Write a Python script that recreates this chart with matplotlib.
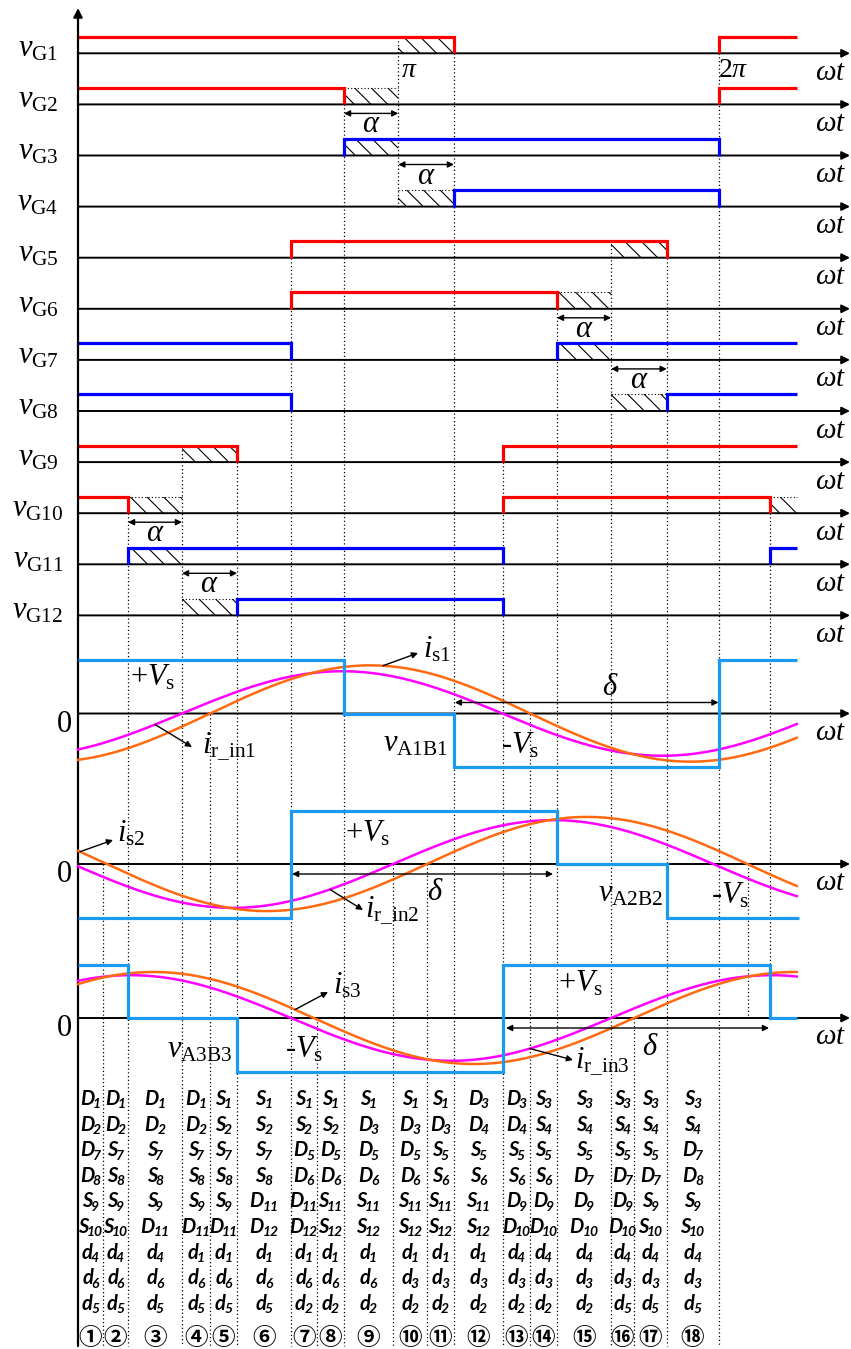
import numpy as np
import matplotlib
matplotlib.use("Agg")
import matplotlib.pyplot as plt
from matplotlib.patches import Rectangle

plt.rcParams["font.family"] = ["Liberation Serif", "DejaVu Serif"]
plt.rcParams["mathtext.fontset"] = "custom"
plt.rcParams["mathtext.rm"] = "Liberation Serif"
plt.rcParams["mathtext.it"] = "Liberation Serif:italic"
plt.rcParams["mathtext.bf"] = "Liberation Serif:bold"
plt.rcParams["hatch.linewidth"] = 0.8

# ---------------- gate signals (electrical angle in degrees) ----------------
gate_names = ["G1", "G2", "G3", "G4", "G5", "G6",
              "G7", "G8", "G9", "G10", "G11", "G12"]
gate_colors = ["#FF0000", "#FF0000", "#0000FF", "#0000FF",
               "#FF0000", "#FF0000", "#0000FF", "#0000FF",
               "#FF0000", "#FF0000", "#0000FF", "#0000FF"]
gate_start = [1, 1, 0, 0, 0, 0, 1, 1, 1, 1, 0, 0]
gate_edges = [[211.3, 360], [149.5, 360], [149.5, 360], [211.3, 360],
              [119.5, 330.9], [119.5, 269.2], [119.5, 269.2], [119.5, 330.9],
              [89.4, 238.9], [28.1, 238.9, 388.9], [28.1, 238.9, 388.9],
              [89.4, 238.9]]
gate_deadtime = [[(180, 211.3)], [(149.5, 180)], [(149.5, 180)], [(180, 211.3)],
                 [(299.6, 330.9)], [(269.2, 299.6)], [(269.2, 299.6)],
                 [(299.6, 330.9)], [(58.45, 89.4)],
                 [(28.1, 58.45), (388.9, 404)], [(28.1, 58.45)], [(58.45, 89.4)]]
# (row below which the arrow sits, start, end)
alpha_marks = [(1, 149.5, 180), (2, 180, 211.3), (5, 269.2, 299.6),
               (6, 299.6, 330.9), (9, 28.1, 58.45), (10, 58.45, 89.4)]
trace_end = 404.0

# ---------------- bridge voltages (units of Vs) and currents ----------------
bridge_names = ["A1B1", "A2B2", "A3B3"]
bridge_edges = [[0, 149.5, 211.3, 360, 404],
                [0, 119.5, 269.2, 330.9, 405],
                [0, 28.1, 89.4, 238.9, 388.9, 404]]
bridge_levels = [[1, 0, -1, 1],
                 [-1, 1, 0, -1],
                 [1, 0, -1, 1, 0]]
is_peak = [0.90, 0.88, 0.86]
is_zero_up = [74.2, 196.2, 312.5]
ir_peak = [0.79, 0.82, 0.80]
ir_zero_up = [58.45, 177.0, 299.6]
delta_spans = [(211.8, 360.0), (120.3, 267.0), (240.6, 388.4)]
is_arrow_at = [171.4, 1.1, 122.0]
ir_arrow_at = [43.3, 141.6, 254.0]

# ---------------- conduction table ----------------
interval_edges = [0, 14.05, 28.1, 58.45, 74.2, 89.4, 119.5, 134.3, 149.5, 177.0,
                  196.2, 211.3, 238.9, 254.0, 269.2, 299.6, 312.5, 330.9, 360]
conducting = [
    "D1 D2 D7 D8 S9 S10 d4 d6 d5",
    "D1 D2 S7 S8 S9 S10 d4 d6 d5",
    "D1 D2 S7 S8 S9 D11 d4 d6 d5",
    "D1 D2 S7 S8 S9 D11 d1 d6 d5",
    "S1 S2 S7 S8 S9 D11 d1 d6 d5",
    "S1 S2 S7 S8 D11 D12 d1 d6 d5",
    "S1 S2 D5 D6 D11 D12 d1 d6 d2",
    "S1 S2 D5 D6 S11 S12 d1 d6 d2",
    "S1 D3 D5 D6 S11 S12 d1 d6 d2",
    "S1 D3 D5 D6 S11 S12 d1 d3 d2",
    "S1 D3 S5 S6 S11 S12 d1 d3 d2",
    "D3 D4 S5 S6 S11 S12 d1 d3 d2",
    "D3 D4 S5 S6 D9 D10 d4 d3 d2",
    "S3 S4 S5 S6 D9 D10 d4 d3 d2",
    "S3 S4 S5 D7 D9 D10 d4 d3 d2",
    "S3 S4 S5 D7 D9 D10 d4 d3 d5",
    "S3 S4 S5 D7 S9 S10 d4 d3 d5",
    "S3 S4 D7 D8 S9 S10 d4 d3 d5",
]
interval_tags = ["①", "②", "③", "④", "⑤", "⑥", "⑦", "⑧", "⑨",
                 "⑩", "⑪", "⑫", "⑬", "⑭", "⑮", "⑯", "⑰", "⑱"]

# ---------------- layout (figure pixels) ----------------
W, H = 851, 1349
X0 = 78.0                 # pixel of the 0 rad axis
PPD = 640.5 / 360.0       # pixels per degree


def xd(px):
    return (px - X0) / PPD


ROW = [53.3 + 51.1 * i for i in range(12)]
GH = 16.6
ZERO = [713.5, 864.0, 1018.0]
VS = 53.5
BOTTOM = 1346.0
X_END = xd(850)

C_BRIDGE = "#1A9BF0"
C_IS = "#FF6A10"
C_IR = "#FF00FF"

fig = plt.figure(figsize=(W / 100, H / 100), dpi=100)
ax = fig.add_axes([0, 0, 1, 1])
ax.set_xlim(xd(0), xd(W))
ax.set_ylim(H, 0)
ax.axis("off")

dot = (0, (1, 2))

# vertical guide lines: (angle, top, bottom)
guides = [
    (14.05, ZERO[1], BOTTOM), (28.1, ROW[9], BOTTOM),
    (58.45, ROW[8] - GH, BOTTOM), (74.2, ZERO[0], BOTTOM),
    (89.4, ROW[8], BOTTOM), (119.5, ROW[4], BOTTOM),
    (134.3, ZERO[2], BOTTOM), (149.5, ROW[1], BOTTOM),
    (177.0, ZERO[1], BOTTOM), (180.0, ROW[0] - GH, ROW[3]),
    (196.2, ZERO[1], BOTTOM), (211.3, ROW[0], BOTTOM),
    (238.9, ROW[8], BOTTOM), (254.0, ZERO[0], BOTTOM),
    (269.2, ROW[5], BOTTOM), (299.6, ROW[4] - GH, BOTTOM),
    (312.5, ZERO[2], BOTTOM), (330.9, ROW[4], BOTTOM),
    (360.0, ROW[0], BOTTOM), (376.6, ZERO[1], ZERO[2]),
    (388.9, ROW[9], ZERO[2]),
]
for ang, y0, y1 in guides:
    ax.plot([ang, ang], [y0, y1], color="black", lw=0.9, ls=dot, zorder=1)

# vertical axis
ax.annotate("", xy=(0, 8), xytext=(0, BOTTOM),
            arrowprops=dict(arrowstyle="-|>", mutation_scale=13, lw=1.6,
                            color="black", shrinkA=0, shrinkB=0), zorder=5)


def h_axis(y):
    ax.annotate("", xy=(X_END, y), xytext=(0, y),
                arrowprops=dict(arrowstyle="-|>", mutation_scale=12, lw=1.4,
                                color="black", shrinkA=0, shrinkB=0), zorder=3)
    ax.text(xd(846), y + 26.5, r"$\omega t$", fontsize=21, ha="right",
            va="baseline")


def state_at(start, edges, x):
    s = start
    for e in edges:
        if x >= e:
            s = 1 - s
    return s


# gate rows
for i, name in enumerate(gate_names):
    y = ROW[i]
    h_axis(y)
    ax.text(xd(38), y + 3.5, r"$v_{\mathrm{%s}}$" % name, fontsize=22,
            ha="center", va="baseline")
    bounds = [0.0] + gate_edges[i] + [trace_end]
    s = gate_start[i]
    for a, b in zip(bounds[:-1], bounds[1:]):
        if s == 1:
            xs, ys = [], []
            if a > 0:
                xs.append(a)
                ys.append(y)
            xs += [a, b]
            ys += [y - GH, y - GH]
            if b < trace_end:
                xs.append(b)
                ys.append(y)
            ax.plot(xs, ys, color=gate_colors[i], lw=2.3, zorder=4,
                    solid_joinstyle="miter", solid_capstyle="butt")
        s = 1 - s
    for a, b in gate_deadtime[i]:
        ax.add_patch(Rectangle((a, y - GH), b - a, GH, hatch="\\\\",
                               fill=False, lw=0, edgecolor="black", zorder=2))
        if state_at(gate_start[i], gate_edges[i], 0.5 * (a + b)) == 0:
            ax.plot([a, b], [y - GH, y - GH], color="black", lw=0.8,
                    ls=dot, zorder=2)

for r, a, b in alpha_marks:
    ya = ROW[r] + 9
    ax.annotate("", xy=(b, ya), xytext=(a, ya),
                arrowprops=dict(arrowstyle="<|-|>", mutation_scale=9, lw=1.0,
                                color="black", shrinkA=0, shrinkB=0), zorder=5)
    ax.text(0.5 * (a + b), ya + 19, r"$\alpha$", fontsize=22, ha="center",
            va="baseline")

ax.text(xd(401), 77, r"$\pi$", fontsize=20, ha="left", va="baseline")
ax.text(xd(718), 77, r"$\mathit{2}\pi$", fontsize=20, ha="left",
        va="baseline")

# bridge voltage / current panels
theta = np.linspace(0, trace_end, 900)
for k in range(3):
    z = ZERO[k]
    h_axis(z)
    ax.text(xd(64.5), z + 18, "0", fontsize=22, ha="center", va="baseline")
    lv = np.array(bridge_levels[k], dtype=float)
    ax.stairs(z - lv * VS, bridge_edges[k], baseline=None, color=C_BRIDGE,
              lw=2.3, zorder=6)
    i_s = z - is_peak[k] * VS * np.sin(np.radians(theta - is_zero_up[k]))
    i_r = z - ir_peak[k] * VS * np.sin(np.radians(theta - ir_zero_up[k]))
    ax.plot(theta, i_r, color=C_IR, lw=1.8, zorder=5)
    ax.plot(theta, i_s, color=C_IS, lw=1.8, zorder=5)
    a, b = delta_spans[k]
    yd = z - 11 if k == 0 else z + 10
    ax.annotate("", xy=(b, yd), xytext=(a, yd),
                arrowprops=dict(arrowstyle="<|-|>", mutation_scale=9, lw=1.0,
                                color="black", shrinkA=0, shrinkB=0), zorder=7)

# current label arrows, tails on the curves
is_label_px = [(418, 653), (113, 840), (328, 992)]
ir_label_px = [(192, 747), (363, 910), (573, 1060)]
for k in range(3):
    z = ZERO[k]
    ta = is_arrow_at[k]
    ty = z - is_peak[k] * VS * np.sin(np.radians(ta - is_zero_up[k]))
    hx, hy = is_label_px[k]
    ax.annotate("", xy=(xd(hx), hy), xytext=(ta, ty),
                arrowprops=dict(arrowstyle="-|>", mutation_scale=9, lw=1.0,
                                color="black", shrinkA=0, shrinkB=0), zorder=7)
    ta = ir_arrow_at[k]
    ty = z - ir_peak[k] * VS * np.sin(np.radians(ta - ir_zero_up[k]))
    hx, hy = ir_label_px[k]
    ax.annotate("", xy=(xd(hx), hy), xytext=(ta, ty),
                arrowprops=dict(arrowstyle="-|>", mutation_scale=9, lw=1.0,
                                color="black", shrinkA=0, shrinkB=0), zorder=7)

labels = [
    (423, 658, r"$i_{\mathrm{s1}}$"),
    (202, 753, r"$i_{\mathrm{r\_in1}}$"),
    (117, 842, r"$i_{\mathrm{s2}}$"),
    (365, 917, r"$i_{\mathrm{r\_in2}}$"),
    (333, 993, r"$i_{\mathrm{s3}}$"),
    (575, 1068, r"$i_{\mathrm{r\_in3}}$"),
    (383, 752, r"$v_{\mathrm{A1B1}}$"),
    (598, 902, r"$v_{\mathrm{A2B2}}$"),
    (167, 1057, r"$v_{\mathrm{A3B3}}$"),
    (130, 685, r"$+V_{\mathrm{s}}$"),
    (345, 842, r"$+V_{\mathrm{s}}$"),
    (558, 992, r"$+V_{\mathrm{s}}$"),
    (501, 753, r"-$V_{\mathrm{s}}$"),
    (711, 903, r"-$V_{\mathrm{s}}$"),
    (285, 1057, r"-$V_{\mathrm{s}}$"),
]
for px, py, s in labels:
    ax.text(xd(px), py, s, fontsize=22, ha="left", va="baseline", zorder=8)

for px, py in [(610, 695), (435, 900), (650, 1055)]:
    ax.text(xd(px), py, r"$\delta$", fontsize=22, ha="center", va="baseline")

# conduction table
renderer = fig.canvas.get_renderer()
tfont = dict(family=["Lato", "DejaVu Sans"], style="italic", weight="bold")
TABLE_Y0 = 1105.0
TABLE_DY = 25.6
for j, col in enumerate(conducting):
    xc = 0.5 * (interval_edges[j] + interval_edges[j + 1])
    for i, tok in enumerate(col.split()):
        yb = TABLE_Y0 + i * TABLE_DY
        t1 = ax.text(xc, yb, tok[0], fontsize=14.5, ha="left", va="baseline",
                     **tfont)
        t2 = ax.text(xc, yb + 3.5, tok[1:], fontsize=10, ha="left",
                     va="baseline", **tfont)
        w1 = t1.get_window_extent(renderer).width
        w2 = t2.get_window_extent(renderer).width
        left = xc - 0.5 * (w1 + w2 - 1.5) / PPD
        t1.set_x(left)
        t2.set_x(left + (w1 - 1.5) / PPD)
    ax.text(xc, 1338, interval_tags[j], fontsize=17, ha="center", va="center",
            weight="bold", family=["Noto Sans CJK JP", "DejaVu Sans"])

fig.savefig("out.png", dpi=100)
